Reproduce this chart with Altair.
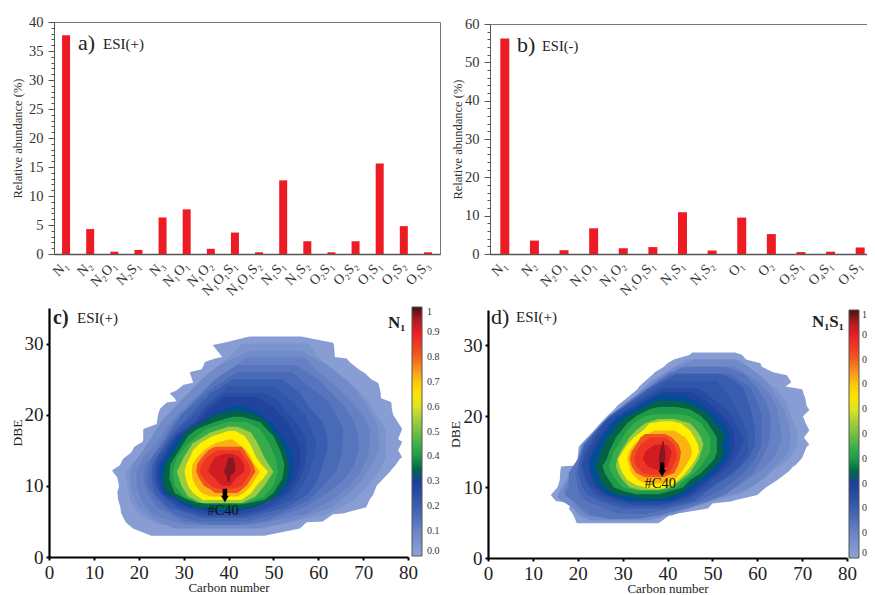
import altair as alt
import pandas as pd

FONT = "Liberation Serif"

A_LABELS = ["N₁","N₂","N₂O₁","N₂S₁","N₃","N₁O₁","N₁O₂","N₁O₁S₁","N₁O₁S₂","N₁S₁","N₁S₂","O₂S₁","O₂S₂","O₁S₁","O₁S₂","O₁S₃"]
A_VALUES = [37.7,4.3,0.4,0.7,6.3,7.7,0.9,3.7,0.3,12.7,2.2,0.3,2.2,15.6,4.8,0.3]
B_LABELS = ["N₁","N₂","N₂O₁","N₁O₁","N₁O₂","N₁O₁S₁","N₁S₁","N₁S₂","O₁","O₂","O₂S₁","O₄S₁","O₁S₁"]
B_VALUES = [56.2,3.5,1.0,6.7,1.5,1.8,10.9,0.9,9.5,5.2,0.5,0.6,1.7]

CMAP_STOPS = [0,0.1,0.2,0.3,0.34,0.38,0.45,0.55,0.63,0.7,0.75,0.82,0.9,0.96,1]
CMAP_COLORS = ["#8ea3d6","#6a85c6","#3a5eaf","#1b3f9b","#0c5b45","#0a9347","#3fb04a","#a6cf3c","#fff000",
               "#fdc70e","#f7931e","#ef4723","#ed1c24","#9e1b20","#4a0f10"]
LEGEND_TICKS = [0,0.1,0.2,0.3,0.4,0.5,0.6,0.7,0.8,0.9,1]

# contour bands: level -> rows of (DBE, left carbon, right carbon)
C_BANDS = {
 0.02: [(31,44.7,56.2),(30.1,39,63.3),(29.8,36.5,63.5),(29,37.5,63.6),(28.1,38.6,63.7),(27.9,37,66.3),(27.4,34.7,67),(27,34.5,67.8),
        (26.4,34,69),(26,31.5,70),(25.8,31.4,70.5),(25,31.9,71.8),(24.5,32.1,73.3),(24.2,30,73.5),(23.4,28.4,73.8),(23,26.9,73.9),
        (22.3,28,74),(21.9,28.4,75.8),(21.7,26.2,76.3),(20.8,24.7,76.4),(20,24.3,76.7),(18.7,24,78),(18,21,78.7),(16.6,21,77.8),
        (16.2,20.9,78.7),(15.5,19,78.2),(15,18.6,77.8),(14.7,18.3,78.1),(14,16.9,78.7),(13.8,16.5,78.2),(12.9,15.8,77.2),(12.2,14.1,76.2),
        (12,14.2,76),(11.2,15.2,74.8),(10,15.6,73),(9,15.2,72.4),(8.7,15.3,72.2),(8,15.4,71.4),(7,15.9,70.7),(6.1,16.1,65.5),
        (6,16.2,63.3),(5,17,61),(4.9,17.1,57.4),(4,18.7,55.9),(3,22.8,48)],
 0.05: [(30,43,58),(28,40,60),(26,36,64),(24,32.5,68),(22,29.5,71),(20,27,73),(18,24,75),(16,22.5,75),(14,20,75),(12,17,73.5),
        (10,17.5,71),(8,18,68),(6,20,62),(4.5,24.5,51)],
 0.08: [(29,45,56),(27,38,62),(25,34,66),(23,31,69),(21,28,71),(19,25,73),(17,23,73.5),(15,21,73.5),(13,18.5,72),
        (11,18,70),(9,18.5,67),(7,20,63),(5,24,54),(4,28,47)],
 0.11: [(28,44,57),(26,39.5,60),(24,35.5,64),(22,32,67),(20,28.5,70),(18,26,71.5),(16,24,71.5),(14,21,71),(12,19.5,69.5),
        (10,19.5,67),(8,20.5,63),(6,23,57),(4.5,30,45)],
 0.14: [(27,42,55),(25,37,60),(23,34,63),(21,31,66),(19,28,68),(17,26,69),(15,24,69),(13,21.5,68),(11,21,66),(9,22,62),
        (7,24,57),(5,30,48),(4.5,36,42)],
 0.17: [(26,42,54),(24,37,58),(22,33,62),(20,29.5,64),(18,27.5,65.5),(16,25.5,65.5),(14,23,65),(12,22,64),(10,22,61),(8,24,58),
        (6,28,51),(5,33,44)],
 0.20: [(25,41,52),(23,36,56),(21,33,58),(19,30,61),(17,27,62),(15,25,62),(13,23,61),(11,22.8,60),(9,23.5,58),(7,26.5,53),(5.5,34,44)],
 0.23: [(24,40,50),(22,36,54),(20,32.5,57),(18,29,58.5),(16,26.5,59.5),(14,24,59),(12,23.3,58),(10,23.7,56.5),(8,26,54),(6.5,30,48),(5.7,35,43)],
 0.26: [(23,39,48),(22,37,51),(21,35,52),(19,32.5,55),(17,28,57),(15,26,57.5),(13,24,57),(11,23.8,56),(9,24.8,54),(7,29,49),(6,35,43)],
 0.285: [(22.5,39,46),(21,36,50),(19,33.2,53),(17,28.5,55),(15,26.5,56),(13,24.5,56),(11,24.3,55),(9,25.3,53),(7.3,30,47),(6.3,36,42)],
 0.31: [(21.2,41,43),(20.5,38,46),(19,34,49.5),(17,29,52),(15,27,54),(13,25,54.5),(11,24.8,54),(9,25.8,52),(7,31,46),(6.4,37,41)],
 0.345: [(20.6,41.5,42.5),(20,37.3,46.2),(19,34.3,48.4),(18,31.3,49.6),(17,29.9,50.7),(16,29.1,52),(15,28,52.5),(14,26.9,53),
        (13,25.9,53.5),(12,25.6,53.3),(11,25.4,53),(10,25.6,52.5),(9,26.5,51),(8,29.1,49.6),(7,32.8,44.7),(6.7,38,41)],
 0.40: [(19.7,41,43),(19,37,47),(18,33,48.5),(17,31,50),(15,29,51.5),(13,27,52.5),(11,26.8,52),(9,28,50),(8,31,48),(7.4,35,43)],
 0.44: [(19,40,44),(18,35,47),(16,31,49),(14,28.5,50.5),(12,27.5,51),(10,28,50),(8.5,30,48),(7.6,33,44)],
 0.54: [(18.3,40,42),(17.5,36,45),(16,32,46.5),(14,30,48),(12,28.5,50),(10,29.5,48),(8.5,31,46),(7.6,34,43)],
 0.63: [(17.7,40,41.5),(17,36.5,43.6),(16,33.6,44.7),(15,32.1,45.5),(14,31.4,46.2),(13,30.6,47.3),(12,30.2,48.8),(11,30.5,47.7),
        (10,31,46.2),(9,32.1,45.1),(8,34.3,42.9)],
 0.72: [(16.5,40,41),(16,37,42),(15,34.5,44),(14,33,45),(13,32,45.8),(12,31.8,47),(11,32,46),(10,32.7,45),(9,34,43.5),(8.5,36,42)],
 0.81: [(15.5,37,43),(15,35.5,43.5),(14,34,44.5),(13,33,45.5),(12,32.8,46),(11,33.5,45),(10,34.5,44),(9.5,36,43),(9,37,42)],
 0.86: [(15,37.5,42.5),(14,35,43.5),(13,34,44.6),(12,33.5,45),(11,34.5,44),(10,36,43),(9.6,37.5,41)],
 0.92: [(14.5,39,41),(14,37,42.5),(13,36,43.5),(12,35.5,43.5),(11,37,41.5),(10,38.5,40.5)],
 0.97: [(14,40,41),(13,39.5,41.5),(12,39,41.5),(11.5,39.5,40.5),(10.5,39.8,40.2)],
}
D_BANDS = {
 0.02: [(29,45.5,55),(28.7,45,56.6),(28,41.4,57.5),(27.5,40,60.7),(27,39.2,61),(26.2,37.2,63.5),(25.8,36.5,66.6),(24.8,34.7,67.6),
        (24.2,33.7,66.3),(23.8,33.3,70),(22.5,30.8,70.7),(21.5,28.8,71),(20.9,28,71.6),(20,26.5,70.2),(19,25,70.8),(18,23.6,71.6),
        (17,22.1,70.4),(16,20.6,71.6),(15.7,20.2,71),(14.1,20,70),(13.1,20.2,68.5),(12.9,16.3,68),(12.2,16.1,67),(11,16,64.5),
        (10,15.5,62),(8.9,14,60),(8.1,15,54.8),(8,15.4,54.5),(7.7,18.7,50),(7,18,49),(6.1,19,40.6),(4.9,19.8,38)],
 0.05: [(28,44,56),(26,39,60),(24,35,64),(22,31,66.5),(20,28,67.5),(18,25,69),(16,22,69),(14,20.5,67),(12,18,63),(10,17,59),
        (9,16,56),(7.5,19,47),(6,20,41)],
 0.08: [(28,46,55),(27,42,58),(25,36.5,62),(23,33,64),(21,29.5,66),(19,26,67),(17,23.5,67.5),(15,21,67),(13,20,64),
        (11,17.5,61),(9.5,16,57),(8.5,15.5,52),(7,19,45),(6,20.5,40),(5.3,23,36)],
 0.11: [(27,43,55),(25,38,60),(23,33.5,63),(21,29.5,64.5),(19,26,65),(17,23,65.5),(15,21,64.5),(13,19.5,62),(11,18,58),(9.5,17,54),
        (8,19,48),(7,20,43),(6,22,38)],
 0.14: [(27,44,53),(26,40,57),(24,35.5,60),(22,31,62),(20,27,63),(18,24,63),(16,21,62.5),(14,20,61),(12,18,59),(10,18,55),
        (9,17,53),(8,19,49),(7,21,44),(6,23,38),(5.5,27,33)],
 0.17: [(26,41,54),(24,36,58.5),(22,31.5,60),(20,27.5,61),(18,24.5,61),(16,21.5,61),(14,20.5,59.5),(12,19.5,57),(10,20,53),(9,20.5,50),
        (8,22,47),(7,26,41),(6.2,29,35)],
 0.20: [(26,42,52),(25,39,55),(24,36,57),(22,32,58),(20,27,59),(18,24,59.5),(16,21.5,59.5),(14,20.5,58),(12,20,55),(10,21,50),
        (9,22,48),(8,25,46),(7,30,39)],
 0.23: [(25,40,51),(23,35,53.5),(21,29.5,55.5),(19,25.5,57),(17,23.5,58),(15,21.5,58),(13,20.7,56),(11,21.5,52),(9,23.5,47),(8,27,44),(7.3,31,38)],
 0.26: [(24,39,47),(23,36,49),(22,33.5,51),(21,31,53),(20,28,54.5),(19,26,55),(18,25,56),(17,24,57),(16,23,56.5),(15,22,56),
        (14,21.5,55),(13,21,54),(12,21.5,52),(11,22,50),(10,23,48),(9,25,46),(8,29,42),(7.5,33,38)],
 0.285: [(23.5,39,45),(22,34.5,49),(20,29,52.5),(18,26,54.8),(16,24,55),(14,22.5,54),(12,22.5,51),(10,24,47),(9,26,45),(8,31,41)],
 0.31: [(23,38,43),(22,35,47),(21,32.5,49),(20,29.5,51),(19,27.5,52.5),(18,26.5,53.5),(17,25,54),(16,24.5,53.5),(15,23.5,54),
        (14,23,53),(13,22.5,52),(12,23,50.5),(11,23.5,48.5),(10,24.5,46),(9,26.5,44),(8,32,40)],
 0.345: [(22.2,39,41.5),(22,37,44),(21,34,47.5),(20,31,49.5),(19,29,50.5),(18,28,52),(17,26.5,52.7),(16,26,52),(15,25,52.5),
        (14,24.8,52),(13,23.8,50.7),(12,24.5,49),(11,25,47),(10,26,44.5),(9,28.5,42.5),(8.4,35,39)],
 0.40: [(21.3,38,42),(21,36,45),(20,33,47.5),(19,31,49),(17,28.5,51),(15,27,51),(14,26.5,50.5),(13,25.5,49),(12,26,47.5),
        (11,27,45),(10,28,43.5),(9.5,30,41),(9,33,38)],
 0.44: [(20.3,37,43),(20,35,45),(19,32.5,47.5),(18,31,48.5),(17,30,49.5),(15,28,49.5),(13,27,47.5),(12,27.5,46),(11,28.5,44),
        (10,30,42),(9.5,33,39)],
 0.54: [(19.6,38,41.5),(19,35,45),(18,33,46.5),(17,31.5,47.5),(16,30.5,48),(15,29.5,47.5),(14,28.8,47),(13,28.5,46),(12,29,45),
        (11,30,43),(10,31.5,41),(9.6,34,38)],
 0.63: [(19.3,39,41),(19,36,43),(18,34.5,45),(17,32.5,46),(16,31,46.8),(15,30,47),(14,29,46.3),(13,29.3,45.3),(12,30,44),
        (11,31,42.5),(10.3,33,41),(9.8,36,39)],
 0.72: [(18,37,41.5),(17,34.5,44),(16,32.5,45),(15,31.5,45.5),(14,31,45),(13,31.5,44),(12,32,43),(11,33.5,41.5),(10.5,35,39)],
 0.81: [(17.5,35,39.5),(17,34,41),(16,33,42.5),(15,32,43),(14,31.6,42.8),(13,32,42.3),(12,33,41.5),(11.4,35,39)],
 0.86: [(17,36,39.5),(16,34,41.5),(15,33,42),(14,32.5,42),(13,33,41.3),(12,34.5,40.3),(11.8,36,38)],
 0.92: [(16,37,40),(15,35,41),(14,34.5,40.5),(13,35.5,40),(12.5,37,39)],
 0.97: [(16.5,38.9,39.1),(15,38.3,39.5),(14,38,39.5),(13.5,38.2,39.2)],
}


def band_frame(bands):
    return pd.DataFrame([{"level": lv, "dbe": r[0], "left": r[1], "right": r[2]} for lv, rows in bands.items() for r in rows])


def spacer(w, h):
    return alt.Chart(pd.DataFrame({"v": [0]})).mark_point(opacity=0).encode(x=alt.value(0), y=alt.value(0)).properties(width=w, height=h)


def note(text, x, y, size, weight="normal", color="#222"):
    return alt.Chart(pd.DataFrame({"t": [text]})).mark_text(font=FONT, fontSize=size, fontWeight=weight, color=color,
        align="left", baseline="middle").encode(x=alt.value(x), y=alt.value(y), text="t:N")


def bar_panel(labels, values, ymax, major, minor, width, height, bar, notes, pad):
    df = pd.DataFrame({"c": labels, "v": values})
    bars = alt.Chart(df).mark_bar(color="#ed1c24", size=bar).encode(
        x=alt.X("c:N", sort=labels, scale=alt.Scale(paddingInner=0.66, paddingOuter=0.33), title=None,
                axis=alt.Axis(labelAngle=-45, labelAlign="right", labelBaseline="middle", labelFont=FONT, labelFontSize=14,
                              labelColor="#333", ticks=False, domainColor="#555", domainWidth=1.5, labelPadding=9, labelOverlap=False)),
        y=alt.Y("v:Q", scale=alt.Scale(domain=[0, ymax], nice=False), title="Relative abundance (%)",
                axis=alt.Axis(values=list(range(0, ymax + 1, minor)), labelExpr=f"datum.value % {major} == 0 ? datum.value : ''",
                              grid=False, labelFont=FONT, labelFontSize=14.5, labelColor="#333", labelOverlap=False,
                              titleFont=FONT, titleFontSize=12.5, titleFontWeight="normal", titleColor="#333", tickColor="#555",
                              tickSize={"condition": {"test": f"datum.value % {major} == 0", "value": 6}, "value": 3},
                              domainColor="#555", titlePadding=pad, labelPadding=5)))
    return alt.layer(bars, *notes).properties(width=width, height=height, view=alt.ViewBackground(stroke="#777"))


def contour_panel(bands, width, height, legend_x, legend_y, label_offset, title_pad, arrow_c, arrow_top, arrow_tip, label_c, label_y, notes):
    df = band_frame(bands)
    xscale = alt.Scale(domain=[0, 80], nice=False)
    yscale = alt.Scale(domain=[0, 35], nice=False)
    area = alt.Chart(df).mark_area(orient="horizontal", interpolate="linear").encode(
        y=alt.Y("dbe:Q", scale=yscale, title="DBE",
                axis=alt.Axis(values=[0,5,10,15,20,25,30,35], grid=False, labelFont=FONT, labelFontSize=19, labelColor="#222", labelOverlap=False,
                              labelFlush=False, titleFont=FONT, titleFontSize=13.5, titleFontWeight="normal", titleColor="#222", domainColor="#000", domainWidth=2.2,
                              tickColor="#000", tickWidth=2, tickSize=3, titlePadding=title_pad, labelPadding=3)),
        x=alt.X("left:Q", scale=xscale, title="Carbon number",
                axis=alt.Axis(values=list(range(0, 81, 5)), labelExpr="datum.value % 10 == 0 ? datum.value : ''", grid=False, labelFont=FONT,
                              labelFontSize=19, labelColor="#222", labelFlush=False, labelOverlap=False, titleFont=FONT, titleFontSize=13,
                              titleFontWeight="normal", titleColor="#222", domainColor="#000", domainWidth=2.2, tickColor="#000", tickWidth=2,
                              tickSize=3, titlePadding=-1, labelPadding=3)),
        x2="right:Q",
        detail="level:Q",
        color=alt.Color("level:Q", scale=alt.Scale(domain=CMAP_STOPS, range=CMAP_COLORS),
                        legend=alt.Legend(orient="none", legendX=legend_x, legendY=legend_y, direction="vertical", title=None, gradientLength=height,
                                          gradientThickness=10, gradientStrokeColor="#555", gradientStrokeWidth=1, values=LEGEND_TICKS,
                                          labelExpr="datum.value == 1 ? '1' : format(datum.value, '.1f')", labelFont=FONT, labelFontSize=10,
                                          labelColor="#333", labelOffset=label_offset)),
        order=alt.Order("level:Q"))
    stem = alt.Chart(pd.DataFrame({"c": [arrow_c], "a": [arrow_top], "b": [arrow_tip + 0.7]})).mark_rule(color="#000", strokeWidth=4.5).encode(
        x=alt.X("c:Q", scale=xscale), y=alt.Y("a:Q", scale=yscale), y2="b:Q")
    head = alt.Chart(pd.DataFrame({"c": [arrow_c], "a": [arrow_tip + 0.45]})).mark_point(shape="triangle-down", filled=True, color="#000", size=60, opacity=1).encode(
        x=alt.X("c:Q", scale=xscale), y=alt.Y("a:Q", scale=yscale))
    lbl = alt.Chart(pd.DataFrame({"c": [label_c], "a": [label_y], "t": ["#C40"]})).mark_text(font=FONT, fontSize=14.5, color="#111").encode(
        x=alt.X("c:Q", scale=xscale), y=alt.Y("a:Q", scale=yscale), text="t:N")
    return alt.layer(area, stem, head, lbl, *notes).properties(width=width, height=height)


PAD_L, PAD_T = 41, 14
a = bar_panel(A_LABELS, A_VALUES, 40, 5, 1, 386, 232, 8,
              [note("a)", 24, 21, 22), note("ESI(+)", 49, 22, 15)], 4)
b = bar_panel(B_LABELS, B_VALUES, 60, 10, 2, 385, 230, 9,
              [note("b)", 27, 21, 22), note("ESI(-)", 52, 23, 14.5)], 0)
c = contour_panel(C_BANDS, 359, 249, 363, -1, 5, 0, 39.2, 9.6, 7.7, 38.8, 6.5,
                  [note("c)", 4, 10, 20, "bold"), note("ESI(+)", 28, 10, 15), note("N₁", 339, 15, 17, "bold")])
d = contour_panel(D_BANDS, 359, 248, 361, 0, 3, 1, 38.8, 13.5, 11.5, 38.4, 10.4,
                  [note("d)", 3, 7, 22), note("ESI(+)", 28, 7, 15), note("N₁S₁", 324, 12, 17, "bold")])

row1 = alt.hconcat(spacer(5, 232), a, spacer(50, 232),
                   alt.vconcat(spacer(385, 2), b, spacing=0, bounds="flush"), spacing=0, bounds="flush")
d_col = alt.vconcat(spacer(359, 2), d, spacing=0, bounds="flush").resolve_scale(color="independent")
row2 = alt.hconcat(c, spacer(80, 249), d_col, spacing=0, bounds="flush").resolve_scale(color="independent")
chart = alt.vconcat(row1, row2, spacing=6).resolve_scale(color="independent").properties(
    autosize=alt.AutoSizeParams(type="none"),
    padding={"left": PAD_L, "top": PAD_T, "right": 859 - PAD_L, "bottom": 590 - PAD_T},
    background="white").configure_view(stroke=None)
chart.save("out.html", embed_options={"renderer": "svg", "actions": False})
